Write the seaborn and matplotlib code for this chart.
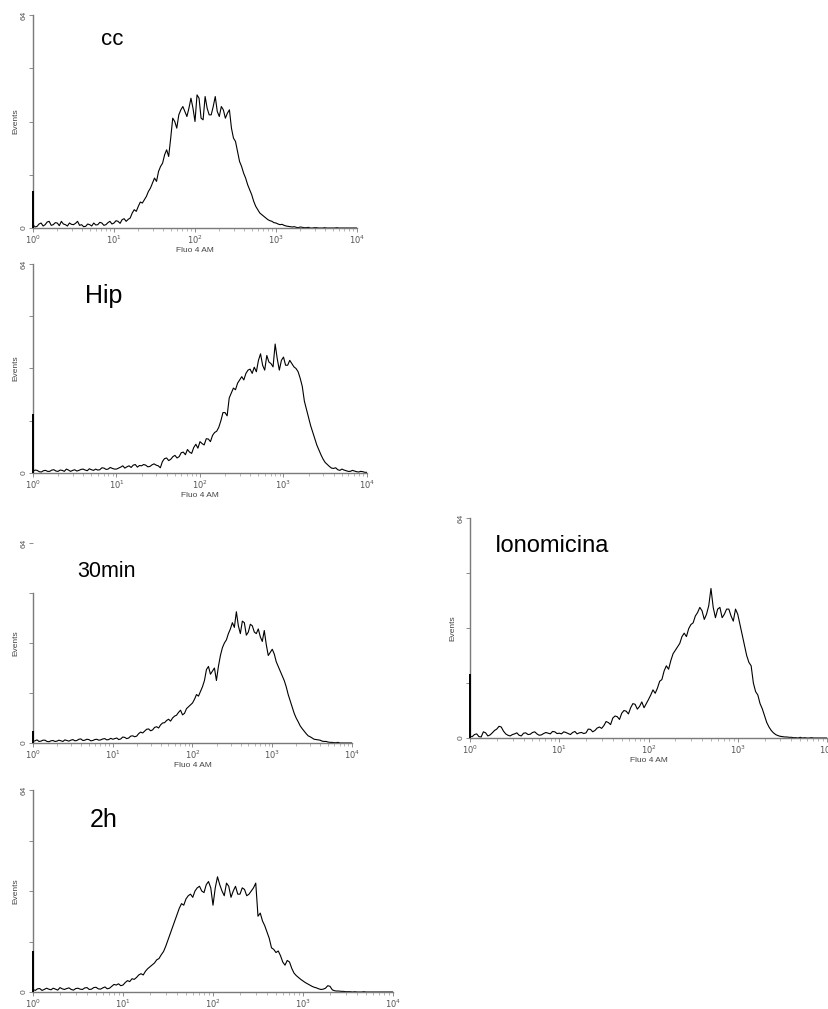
import numpy as np
import matplotlib
matplotlib.use('Agg')
import matplotlib.pyplot as plt
from matplotlib.ticker import NullFormatter
import seaborn as sns

sns.set_style('white')
plt.rcParams['font.family'] = ['Liberation Sans', 'DejaVu Sans']

# Canais do citometro em decadas (escala log de 10^0 a 10^4)
decadas = np.round(np.arange(0, 4.001, 0.025), 3)

# Altura do pico no primeiro canal (10^0) de cada amostra
pico_cc = 11
pico_hip = 18
pico_30min = 4
pico_iono = 18.5
pico_2h = 13

# Eventos por canal (0 a 64), 10 canais por linha
cc = [1, 0.3, 0.5, 1.2, 1.5, 0.6, 1, 1.8, 2, 0.8,
      1, 1.6, 1.5, 0.7, 2, 1.2, 1, 0.6, 1.5, 1.1,
      1, 1.4, 2, 0.8, 1, 0.4, 0.5, 1.2, 1, 0.6,
      1.5, 0.9, 1, 1.7, 1.5, 0.8, 1, 1.6, 2, 1.2,
      1.5, 2.2, 2, 1.4, 2.5, 2.8, 2, 2.6, 3, 4.5,
      5.5, 5, 6.5, 7.8, 7.5, 8.5, 9.5, 11, 12, 13.5,
      15, 14, 17, 18.5, 19.5, 22, 23.5, 21.5, 27, 33,
      32, 30, 34, 35.5, 36.5, 35, 33.5, 36, 39, 36,
      32, 40, 39, 33, 32.5, 39.5, 36, 34, 34, 36.5,
      39.5, 35, 33.5, 36.5, 35.5, 33, 34.5, 35.5, 30, 27,
      26, 23, 20, 18.5, 16.5, 15, 13, 11.5, 10, 8,
      6.5, 5.5, 4.5, 4, 3.5, 3, 2.5, 2.2, 2, 1.6,
      1.5, 1.2, 1, 1.1, 0.8, 0.6, 0.5, 0.4, 0.3, 0.4,
      0.2, 0.1, 0.3, 0.2, 0.1, 0.1, 0.2, 0, 0, 0.1,
      0.1, 0, 0, 0, 0.1, 0, 0, 0, 0, 0,
      0.1, 0, 0, 0, 0, 0, 0, 0, 0, 0,
      0]

hip = [0.5, 0.9, 0.8, 0.4, 0.3, 0.7, 0.8, 0.5, 0.5, 0.9,
       1, 0.6, 0.5, 0.9, 0.8, 0.5, 1.2, 0.9, 0.5, 0.8,
       1, 0.6, 0.8, 1.1, 1.2, 0.9, 0.7, 1.3, 1, 0.8,
       1.2, 0.9, 1, 1.6, 1.5, 1.1, 1.2, 1.7, 1.4, 1.2,
       1.2, 1.5, 1.8, 2.2, 1.5, 1.9, 2.2, 1.7, 2.4, 2.6,
       1.8, 2.3, 2.2, 2.6, 2.4, 1.9, 2, 2.5, 2.8, 2.4,
       2.2, 1.6, 3.5, 4.4, 4.6, 3.8, 4.2, 5, 5.4, 4.6,
       5, 6.2, 6.4, 5.6, 7.2, 6.4, 6, 7.8, 8.8, 7.6,
       9.6, 9, 8.6, 10.5, 10.4, 9.6, 11.5, 12.4, 12.8, 14,
       16, 18.5, 18.5, 17.5, 23, 24.5, 26, 25.5, 27.5, 28.5,
       29.5, 28.5, 30.5, 31.5, 31.8, 30.5, 32.4, 31, 34.5, 36.5,
       33, 31.5, 36, 34, 33.5, 32.5, 39.5, 35, 31.5, 34.5,
       35.5, 33, 33, 34.5, 33.5, 32.5, 32, 31, 29, 26.5,
       22, 19.5, 17, 14.5, 12.5, 10.5, 8.5, 7, 5.5, 4.2,
       3.2, 2.6, 2, 1.5, 1.4, 1.6, 1, 0.8, 1.2, 0.9,
       0.7, 0.5, 0.5, 0.8, 0.6, 0.4, 0.3, 0.5, 0.4, 0.2,
       0.2]

min30 = [0.5, 0.7, 1, 0.5, 0.6, 0.9, 0.9, 0.5, 0.4, 0.7,
         0.8, 0.5, 0.6, 0.9, 0.7, 0.5, 1, 0.8, 0.6, 0.9,
         1.1, 0.7, 0.8, 1.2, 1.3, 0.8, 0.9, 1.2, 1.1, 0.7,
         0.8, 1.1, 1.2, 0.9, 1, 1.3, 1.4, 1, 1.1, 1.5,
         1.2, 1.4, 1.6, 1.1, 1.3, 1.9, 1.8, 1.4, 1.6, 2.2,
         2.3, 2, 2.2, 3, 3.5, 3.2, 3.8, 4.4, 4.5, 3.9,
         4.2, 5, 5.2, 4.8, 5.8, 6.4, 6.5, 7.2, 7.6, 7,
         8, 8.6, 8.9, 9.8, 10.5, 9, 9.5, 11, 11.6, 12.2,
         12.8, 14, 15.5, 15, 16.5, 18, 20, 23.5, 24.5, 22,
         23, 24, 20, 24.5, 28, 30.5, 32, 33, 35, 36.5,
         38.5, 37, 42, 37.5, 35, 39, 38.5, 34.5, 35.5, 38,
         37.5, 35.5, 35, 36.5, 34, 32.5, 36, 31.5, 28, 29,
         30, 28.5, 26, 24.5, 23, 21.5, 20, 18, 15.5, 13.5,
         11.5, 9.5, 8, 6.8, 5.5, 4.6, 3.8, 3, 2.3, 2,
         1.6, 1.2, 1.1, 1, 0.9, 0.6, 0.5, 0.5, 0.3, 0.2,
         0.2, 0.1, 0.1, 0.2, 0, 0, 0, 0, 0, 0,
         0]

iono = [0.5, 0.4, 1, 1.2, 0.4, 0.3, 1.8, 1.5, 0.6, 0.9,
        1.5, 2.2, 2.6, 3.4, 3.2, 2, 1.2, 0.8, 0.6, 1,
        1.2, 1.5, 0.8, 0.6, 1.4, 1.5, 1, 1.1, 1.6, 1.8,
        1.2, 0.8, 0.9, 1.3, 1.6, 1.4, 1.2, 1.9, 1.8, 1.3,
        1.4, 1.2, 1.8, 1.6, 1.3, 1, 1.6, 1.9, 1.2, 1.5,
        1.6, 1.3, 1.5, 2.6, 2.5, 1.8, 2.2, 2.9, 3.2, 2.8,
        3.6, 4.8, 4.5, 3.9, 5.8, 6.4, 6.2, 5.4, 7.2, 8,
        7.8, 7, 8.8, 10, 9.8, 8.4, 9.2, 10.5, 8.8, 10,
        11.2, 12.5, 14, 13, 14.5, 16.5, 17, 19.5, 21, 20,
        22.5, 24.5, 25.5, 26.5, 27.5, 29.5, 30.5, 29.5, 31.8, 33,
        33.5, 35.5, 36.5, 38, 37, 34.5, 36, 38.5, 43.5, 38,
        35, 37.5, 38, 35, 36, 37.5, 37.5, 35.5, 34, 37.5,
        36, 33, 30, 27, 24, 22, 21, 16, 13.5, 12.5,
        10, 8.5, 6.5, 4.5, 3.2, 2.2, 1.5, 1, 0.7, 0.5,
        0.4, 0.3, 0.3, 0.2, 0.2, 0.1, 0.1, 0, 0.2, 0,
        0.1, 0, 0, 0.1, 0, 0, 0, 0, 0, 0,
        0]

h2 = [0.8, 0.5, 1, 1.1, 0.5, 0.8, 1.2, 0.9, 0.7, 1.2,
      0.9, 0.6, 1.4, 1, 0.8, 1.1, 1.3, 0.8, 0.6, 1.1,
      1.2, 0.9, 0.8, 1.3, 1.4, 0.8, 0.9, 1.4, 1.5, 1,
      0.9, 1.3, 1.6, 1, 1.2, 1.8, 2.4, 2.2, 2.6, 2,
      2.2, 3, 3.6, 3.3, 4.2, 4, 4.6, 5.4, 5.8, 5.4,
      6.6, 7.4, 8, 8.6, 9.2, 10.2, 10.6, 11.8, 12.8, 14.5,
      16.5, 18.5, 20.5, 22.5, 24.5, 26.5, 28, 27.5, 29.5, 30.5,
      31, 30, 32, 33, 33.5, 32, 31.5, 34, 35, 33,
      27.5, 33, 36.5, 34, 32, 30.5, 34.5, 33.5, 30, 32,
      33.5, 31, 31, 33, 32.5, 30.5, 31, 32, 33, 34.5,
      24, 25, 22.5, 21, 19, 17, 14, 13.5, 12.5, 13,
      11.5, 9.5, 8.5, 10, 9.5, 7.5, 6, 5.2, 4.6, 4,
      3.5, 3, 2.6, 2.2, 1.8, 1.5, 1.3, 1, 0.8, 0.9,
      1.2, 2, 1.8, 0.7, 0.4, 0.3, 0.3, 0.2, 0.2, 0.1,
      0.1, 0.1, 0, 0.1, 0, 0, 0, 0.1, 0, 0,
      0, 0, 0, 0, 0, 0, 0, 0, 0, 0,
      0]

ticks_x = [1, 10, 100, 1000, 10000]
labels_x = [r'$10^{0}$', r'$10^{1}$', r'$10^{2}$', r'$10^{3}$', r'$10^{4}$']
ticks_y = [0, 16, 32, 48, 64]
labels_y = ['0', '', '', '', '64']

W, H = 829, 1009
fig = plt.figure(figsize=(W / 100, H / 100), dpi=100)

# (dados, pico, nome, caixa do eixo em pixels, posicao do texto, tamanho do texto)
paineis = [
    (cc, pico_cc, 'cc', (33, 357, 15, 228), (101, 45), 16),
    (hip, pico_hip, 'Hip', (33, 367, 264, 473), (85, 303), 18),
    (min30, pico_30min, '30min', (33, 352, 543, 743), (77, 577), 15.5),
    (iono, pico_iono, 'Ionomicina', (470, 827, 518, 738), (495, 552), 17),
    (h2, pico_2h, '2h', (33, 393, 790, 992), (90, 827), 18),
]

cinza = '#7a7a7a'
for valores, pico, nome, (x0, x1, yt, yb), (tx, ty), fs in paineis:
    ax = fig.add_axes([x0 / W, 1 - yb / H, (x1 - x0) / W, (yb - yt) / H])
    sns.lineplot(x=10 ** decadas, y=valores, ax=ax, color='black', lw=0.8)
    ax.vlines(1, 0, pico, color='black', lw=1.4, clip_on=False, zorder=5)
    ax.set_xscale('log')
    ax.set_xlim(1, 1e4)
    ax.set_ylim(0, 64)
    sns.despine(ax=ax)
    for s in ['left', 'bottom']:
        ax.spines[s].set_color(cinza)
        ax.spines[s].set_linewidth(1.0)
    if nome == '30min':
        ax.spines['left'].set_bounds(0, 48)
    ax.set_xticks(ticks_x)
    ax.set_xticklabels(labels_x, fontsize=6, color='#555555')
    ax.xaxis.set_minor_formatter(NullFormatter())
    ax.set_yticks(ticks_y)
    ax.set_yticklabels(labels_y, rotation=90, fontsize=6, color='#555555', va='center')
    ax.tick_params(axis='both', which='major', length=3, width=0.6, color=cinza, pad=1,
                   direction='out', left=True, bottom=True)
    ax.tick_params(axis='x', which='minor', length=2, width=0.5, color='#999999',
                   direction='out', bottom=True)
    ax.set_xlabel('Fluo 4 AM', fontsize=6, color='#444444', labelpad=1)
    ax.set_ylabel('Events', fontsize=6, color='#444444', labelpad=1)
    fig.text(tx / W, 1 - ty / H, nome, fontsize=fs, ha='left', va='baseline', color='black')

fig.savefig('out.png', dpi=100)
